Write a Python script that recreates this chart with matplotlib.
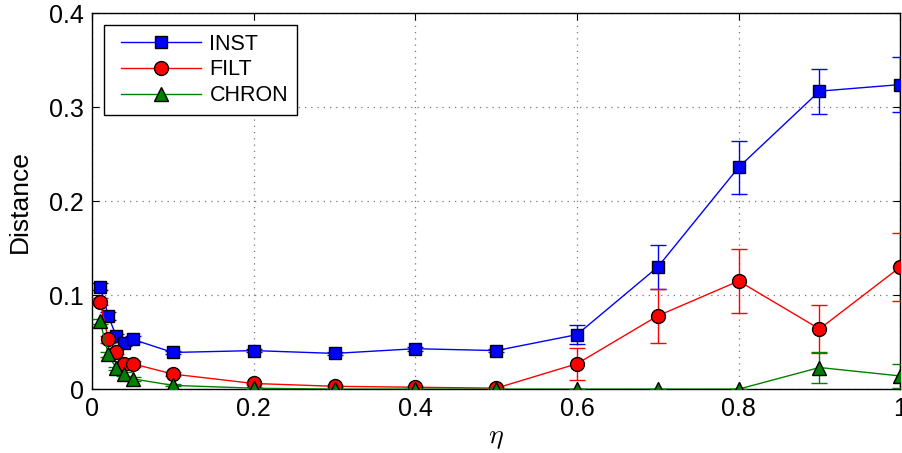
import matplotlib
matplotlib.use("Agg")
import matplotlib.pyplot as plt
from matplotlib.lines import Line2D
from matplotlib.legend_handler import HandlerLine2D

eta = [0.01, 0.02, 0.03, 0.04, 0.05, 0.1, 0.2, 0.3, 0.4, 0.5, 0.6, 0.7, 0.8, 0.9, 1.0]

inst = [0.109, 0.078, 0.056, 0.049, 0.053, 0.039, 0.041, 0.038, 0.043, 0.041, 0.058, 0.130, 0.236, 0.317, 0.324]
inst_err = [0.004, 0.004, 0.003, 0.003, 0.003, 0.002, 0.002, 0.002, 0.002, 0.002, 0.010, 0.023, 0.028, 0.024, 0.029]

filt = [0.093, 0.053, 0.040, 0.027, 0.027, 0.016, 0.006, 0.003, 0.002, 0.001, 0.027, 0.078, 0.115, 0.064, 0.130]
filt_err = [0.004, 0.004, 0.003, 0.003, 0.003, 0.002, 0.001, 0.001, 0.001, 0.001, 0.017, 0.029, 0.034, 0.026, 0.036]

chron = [0.072, 0.037, 0.022, 0.016, 0.011, 0.004, 0.001, 0.000, 0.000, 0.000, 0.000, 0.000, 0.000, 0.023, 0.014]
chron_err = [0.003, 0.003, 0.002, 0.002, 0.002, 0.001, 0.001, 0.000, 0.000, 0.000, 0.000, 0.000, 0.000, 0.016, 0.013]

xticks = [0, 0.2, 0.4, 0.6, 0.8, 1]
xticklabels = ["0", "0.2", "0.4", "0.6", "0.8", "1"]
yticks = [0, 0.1, 0.2, 0.3, 0.4]
yticklabels = ["0", "0.1", "0.2", "0.3", "0.4"]

plt.rcParams['font.family'] = ['Liberation Sans', 'DejaVu Sans']
plt.rcParams['mathtext.fontset'] = 'cm'

fig = plt.figure(figsize=(9.03, 4.53), dpi=100)
ax = fig.add_axes([0.102, 0.141, 0.895, 0.830])

series = [
    (inst, inst_err, 'INST', 'blue', 's', 9),
    (filt, filt_err, 'FILT', 'red', 'o', 10),
    (chron, chron_err, 'CHRON', 'green', '^', 10),
]
handles = []
for y, e, lab, c, m, ms in series:
    ax.errorbar(eta, y, yerr=e, color=c, lw=1.0, marker=m, ms=ms, mfc=c,
                mec='black', mew=1.0, capsize=6, capthick=1.0, elinewidth=1.0,
                zorder=3)
    handles.append(Line2D([], [], color=c, lw=1.0, marker=m, ms=ms, mfc=c,
                          mec='black', mew=1.0, label=lab))

ax.set_xlim(0, 1)
ax.set_ylim(0, 0.4)
ax.set_xticks(xticks)
ax.set_xticklabels(xticklabels)
ax.set_yticks(yticks)
ax.set_yticklabels(yticklabels)
ax.tick_params(direction='in', top=True, right=True, labelsize=18, length=5, pad=6)
ax.grid(True, color='#777777', linestyle=(0, (1, 4)), linewidth=0.9)
for s in ax.spines.values():
    s.set_linewidth(1.0)
ax.set_xlabel(r'$\eta$', fontsize=20)
ax.xaxis.set_label_coords(0.5, -0.095)
ax.set_ylabel('Distance', fontsize=19)
ax.yaxis.set_label_coords(-0.074, 0.5)

leg = ax.legend(handles=handles, loc='upper left', fontsize=15.5, fancybox=False,
                edgecolor='black', framealpha=1, handlelength=4.1,
                handletextpad=0.4, borderaxespad=0.55, labelspacing=0.22,
                borderpad=0.4,
                handler_map={Line2D: HandlerLine2D(xpad=0.4)})
leg.get_frame().set_linewidth(1.0)

fig.savefig('out.png', dpi=100)
